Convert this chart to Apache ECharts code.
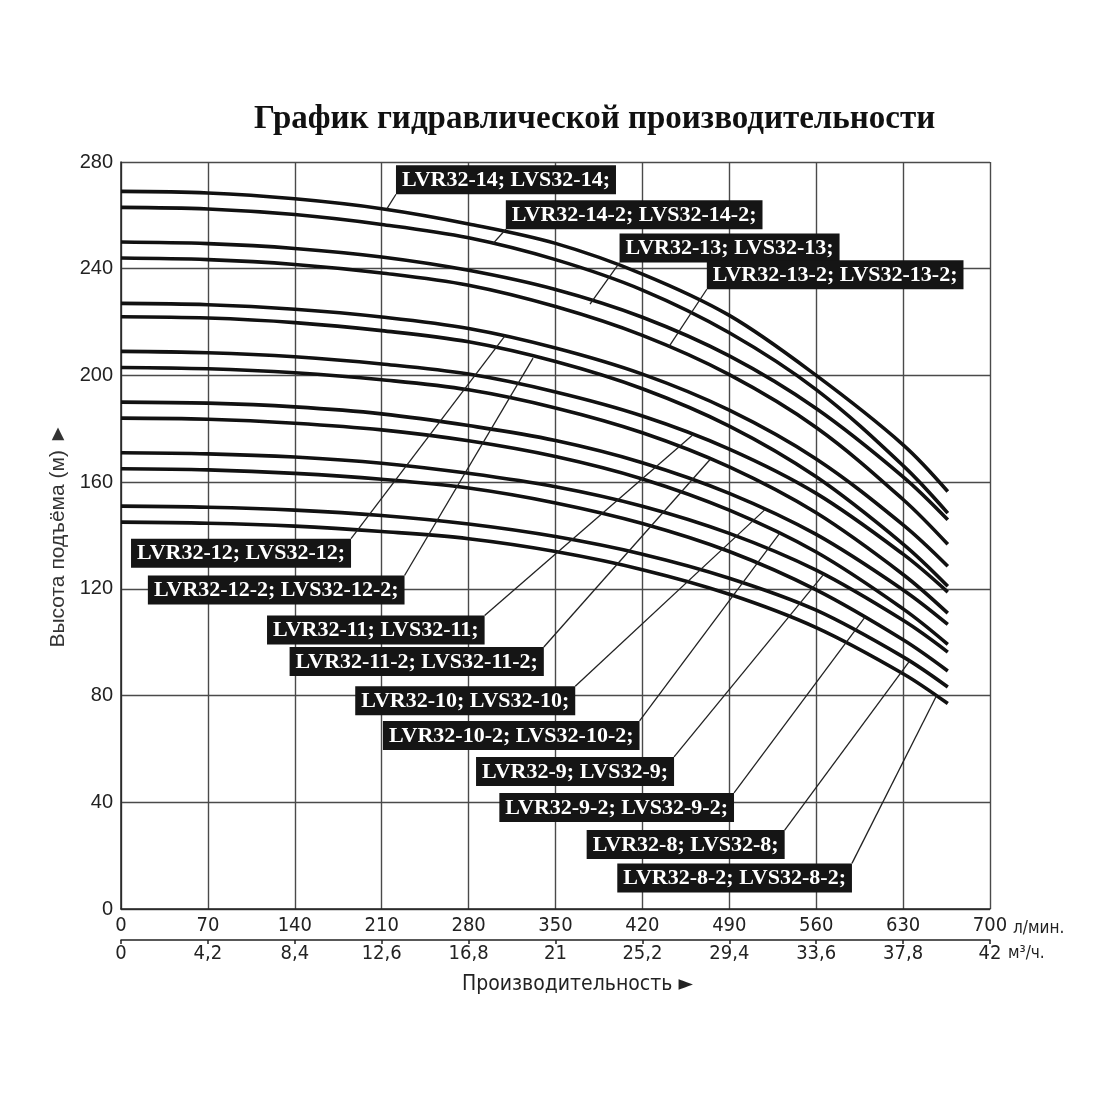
<!DOCTYPE html>
<html>
<head>
<meta charset="utf-8">
<script src="https://cdn.jsdelivr.net/npm/echarts@6/dist/echarts.min.js"></script>
<style>
html,body{margin:0;padding:0;background:#fff;}
#chart{width:1100px;height:1100px;}
</style>
</head>
<body>
<div id="chart"></div>
<script>
// Flow points (л/мин.)
const flow = [0, 70, 140, 210, 280, 350, 420, 490, 560, 630, 666];

// Head values (м) for each curve, top to bottom
const c14   = [269, 268.4, 266.2, 262.5, 256.8, 249.5, 238, 222.5, 200, 174, 156.5];
const c14_2 = [263, 262.4, 260.3, 256.6, 251.6, 243.4, 232, 216, 194.7, 166.2, 148.4];
const c13   = [250, 249.4, 247.6, 244.4, 239.4, 232.2, 221.8, 207.3, 187.6, 162, 145.9];
const c13_2 = [244, 243.4, 241.6, 238.4, 233.8, 225.8, 215, 200.3, 180.5, 153.5, 136.7];
const c12   = [227, 226.5, 224.8, 221.9, 217.6, 210.3, 200.5, 187, 168.7, 144, 128.5];
const c12_2 = [222, 221.5, 219.8, 216.8, 212.6, 205.2, 195, 181, 162, 136.8, 121];
const c11   = [209, 208.5, 207, 204.3, 200.5, 193.8, 184.8, 172.4, 155.8, 133, 118.8];
const c11_2 = [203, 202.5, 201, 198.4, 194.6, 187.8, 178.5, 165.7, 148.5, 125.4, 110.9];
const c10   = [190, 189.6, 188.2, 185.6, 181.2, 175.6, 167.3, 155.8, 140.4, 119.6, 106.7];
const c10_2 = [184, 183.6, 182.1, 179.6, 175.5, 169.6, 161.2, 149.5, 133.8, 112.5, 99.2];
const c9    = [171, 170.6, 169.4, 167.1, 163.3, 158.3, 151, 140.8, 127, 108.2, 96.3];
const c9_2  = [165, 164.6, 163.3, 161.1, 157.8, 152.2, 144.5, 134, 119.6, 100.9, 89.2];
const c8    = [151, 150.6, 149.5, 147.5, 144.3, 139.6, 133, 124, 112, 94.5, 83.2];
const c8_2  = [145, 144.6, 143.5, 141.5, 138.8, 134, 127.2, 118, 105.5, 88.2, 77];

const curves = [c14, c14_2, c13, c13_2, c12, c12_2, c11, c11_2, c10, c10_2, c9, c9_2, c8, c8_2];

const names = [
  'LVR32-14; LVS32-14;', 'LVR32-14-2; LVS32-14-2;',
  'LVR32-13; LVS32-13;', 'LVR32-13-2; LVS32-13-2;',
  'LVR32-12; LVS32-12;', 'LVR32-12-2; LVS32-12-2;',
  'LVR32-11; LVS32-11;', 'LVR32-11-2; LVS32-11-2;',
  'LVR32-10; LVS32-10;', 'LVR32-10-2; LVS32-10-2;',
  'LVR32-9; LVS32-9;', 'LVR32-9-2; LVS32-9-2;',
  'LVR32-8; LVS32-8;', 'LVR32-8-2; LVS32-8-2;'
];

// Label box anchor (corner) in data units [flow, head]
const labelAnchor = [
  [221.5, 267.9], [310, 254.8], [401.6, 242.3], [471.9, 232.3],
  [185.3, 138.8], [228.4, 125], [292.9, 110], [340.6, 98.2],
  [365.9, 83.5], [417.7, 70.5], [445.5, 57], [493.8, 43.5],
  [534.6, 29.6], [588.8, 17.1]
];
// Leader end on the curve, in data units [flow, head]
const leaderEnd = [
  [214.4, 262.6], [299.3, 249.2], [377.8, 226.7], [441, 210.5],
  [309.3, 214.8], [331.9, 206.5], [460.7, 177.8], [474.5, 168.5],
  [518.7, 149.7], [530.8, 141], [566.3, 125.6], [599.3, 109.4],
  [635.6, 93.2], [657, 80]
];

const yTicks = [0, 40, 80, 120, 160, 200, 240, 280];

const chart = echarts.init(document.getElementById('chart'));

const narrow = "'Liberation Sans Narrow', 'DejaVu Sans Condensed', 'Liberation Sans', sans-serif";
const serif = "'Liberation Serif', 'Times New Roman', serif";

const lineSeries = curves.map((arr, i) => ({
  type: 'line',
  name: names[i],
  data: flow.map((q, k) => [q, arr[k]]),
  smooth: 0.35,
  showSymbol: false,
  symbol: 'none',
  lineStyle: { color: '#111', width: 3.6 },
  z: 3,
  silent: true
}));

const labelStyleBase = {
  show: true,
  formatter: p => p.data.name,
  color: '#fff',
  opacity: 1,
  backgroundColor: '#151515',
  fontFamily: serif,
  fontWeight: 'bold',
  fontSize: 22,
  lineHeight: 22,
  padding: [4, 6, 3, 6],
  position: 'inside'
};

const topIdx = [0, 1, 2, 3];
const botIdx = [4, 5, 6, 7, 8, 9, 10, 11, 12, 13];

const option = {
  animation: false,
  backgroundColor: '#fff',
  title: [
    {
      text: 'График гидравлической производительности',
      left: 249, top: 98,
      textStyle: { fontFamily: serif, fontWeight: 'bold', fontSize: 33, color: '#111' }
    },
    {
      text: 'Производительность ►',
      left: 457, top: 969,
      textStyle: { fontFamily: narrow, fontWeight: 'normal', fontSize: 21, color: '#222' }
    }
  ],
  grid: { left: 121, top: 162, width: 869, height: 747, containLabel: false },
  xAxis: [
    {
      type: 'value', min: 0, max: 700, interval: 70,
      position: 'bottom',
      name: 'л/мин.', nameLocation: 'end', nameGap: 18,
      nameTextStyle: { fontFamily: narrow, fontSize: 17, color: '#222', align: 'left', verticalAlign: 'top', padding: [11, 0, 0, 0] },
      axisLine: { show: true, lineStyle: { color: '#222', width: 1.5 } },
      axisTick: { show: false },
      axisLabel: { margin: 7, fontSize: 20, color: '#222', fontFamily: narrow },
      splitLine: { show: true, lineStyle: { color: '#4a4a4a', width: 1.4 } }
    },
    {
      type: 'value', min: 0, max: 42, interval: 4.2,
      position: 'bottom', offset: 31,
      name: 'м³/ч.', nameLocation: 'end', nameGap: 18,
      nameTextStyle: { fontFamily: narrow, fontSize: 17, color: '#222', align: 'left', verticalAlign: 'top', padding: [5, 0, 0, 0] },
      axisLine: { show: true, lineStyle: { color: '#222', width: 1.5 } },
      axisTick: { show: true, length: 4, inside: false, lineStyle: { color: '#222', width: 1.5 } },
      axisLabel: {
        margin: 4, fontSize: 20, color: '#222', fontFamily: narrow,
        formatter: v => String(Math.round(v * 10) / 10).replace('.', ',')
      },
      splitLine: { show: false }
    }
  ],
  yAxis: {
    type: 'value', min: 0, max: 280, interval: 40,
    name: 'Высота подъёма (м) ►', nameLocation: 'middle', nameGap: 50, nameRotate: 90,
    nameTextStyle: { fontFamily: "'Liberation Sans', Arial, sans-serif", fontSize: 21, color: '#333' },
    axisLine: { show: true, lineStyle: { color: '#222', width: 1.5 } },
    axisTick: { show: false },
    axisLabel: { margin: 8, fontSize: 20, color: '#222', fontFamily: "'Liberation Sans', Arial, sans-serif",
      formatter: v => yTicks.includes(v) ? String(v) : '' },
    splitLine: { show: true, lineStyle: { color: '#4a4a4a', width: 1.4 } }
  },
  series: [
    ...lineSeries,
    {
      type: 'lines',
      coordinateSystem: 'cartesian2d',
      xAxisIndex: 0, yAxisIndex: 0,
      silent: true,
      z: 4,
      lineStyle: { color: '#222', width: 1.3, opacity: 1 },
      data: leaderEnd.map((e, i) => ({ coords: [labelAnchor[i], e] }))
    },
    {
      type: 'scatter',
      xAxisIndex: 0, yAxisIndex: 0,
      symbolSize: 0,
      silent: true,
      z: 6,
      itemStyle: { opacity: 1 },
      label: Object.assign({}, labelStyleBase, { align: 'left', verticalAlign: 'bottom' }),
      data: topIdx.map(i => ({ value: labelAnchor[i], name: names[i] }))
    },
    {
      type: 'scatter',
      xAxisIndex: 0, yAxisIndex: 0,
      symbolSize: 0,
      silent: true,
      z: 6,
      itemStyle: { opacity: 1 },
      label: Object.assign({}, labelStyleBase, { align: 'right', verticalAlign: 'top' }),
      data: botIdx.map(i => ({ value: labelAnchor[i], name: names[i] }))
    }
  ]
};

chart.setOption(option);
</script>
</body>
</html>
